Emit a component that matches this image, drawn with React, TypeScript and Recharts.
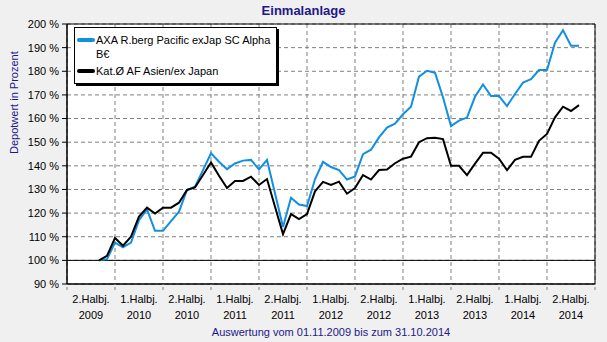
import React from "react";
import {
  LineChart,
  Line,
  XAxis,
  YAxis,
  CartesianGrid,
  ReferenceLine,
  ReferenceArea,
  Legend,
} from "recharts";

// monthly values, 01.11.2009 .. 31.10.2014
const axaValues = [
  100, 100.5, 107.5, 105.5, 107.5, 117, 121.6, 112.5, 112.5, 116.6, 120.6, 129.8,
  131.2, 138.2, 145.3, 141.7, 138.6, 141, 142.2, 142.5, 138.5, 142.5, 128.4, 114.1,
  126.5, 123.6, 123, 134.3, 141.7, 139.5, 138.2, 134.2, 135.5, 144.9, 146.8, 152,
  156.2, 157.8, 161.8, 165, 177.7, 180.2, 179.4, 169, 156.8, 159.1, 160.4, 169.2,
  174.4, 169.5, 169.5, 165.3, 170.4, 175.2, 176.7, 180.5, 180.5, 192.1, 197.4, 190.8,
  190.8,
];
const katValues = [
  100, 101.9, 109.5, 106.2, 110, 118.5, 122.3, 119.8, 122.3, 122.3, 124.4, 129.8,
  130.9, 136.1, 141.4, 135.8, 130.6, 133.6, 133.6, 135.4, 131.9, 134.4, 122.7, 111.1,
  119.6, 117.5, 119.6, 129.2, 133.2, 131.9, 133.3, 128.2, 130.6, 136.1, 134.2, 138.2,
  138.4, 141.1, 143, 143.9, 150, 151.7, 151.9, 151.3, 140, 140, 136.1, 140.9,
  145.5, 145.5, 143, 138.2, 142.5, 143.8, 143.8, 150.6, 153.5, 160.5, 165, 163.2,
  165.7,
];
// half-year columns, month 0 = 01.07.2009
const halfYears = [
  ["2.Halbj.", "2009"],
  ["1.Halbj.", "2010"],
  ["2.Halbj.", "2010"],
  ["1.Halbj.", "2011"],
  ["2.Halbj.", "2011"],
  ["1.Halbj.", "2012"],
  ["2.Halbj.", "2012"],
  ["1.Halbj.", "2013"],
  ["2.Halbj.", "2013"],
  ["1.Halbj.", "2014"],
  ["2.Halbj.", "2014"],
];
const startMonth = 4;
const yTicks = [90, 100, 110, 120, 130, 140, 150, 160, 170, 180, 190, 200];

const BLUE = "#1190e0";
const NAVY = "#22178a";
const FONT = "Arial, 'Liberation Sans', sans-serif";

const data = axaValues.map((v, i) => ({
  m: startMonth + i,
  axa: v,
  kat: katValues[i],
}));
const xTicks = halfYears.map((_, i) => i * 6).concat([halfYears.length * 6]);

function HalfYearTick(props: any) {
  const { x, y, payload } = props;
  const idx = payload.value / 6;
  const label = halfYears[idx];
  if (!label) return null;
  // label sits in the middle of its half-year column
  const colHalf = 24;
  return (
    <text x={x + colHalf} y={y} textAnchor="middle" fontSize={11} fontFamily={FONT} fill="#000">
      <tspan x={x + colHalf} dy={11}>{label[0]}</tspan>
      <tspan x={x + colHalf} dy={16}>{label[1]}</tspan>
    </text>
  );
}

function LegendBox(props: any) {
  const items = props.payload || [];
  return (
    <div
      style={{
        width: 203,
        height: 57,
        background: "#fff",
        border: "1px solid #000",
        boxShadow: "2px 2px 0 #000",
        padding: "5px 2px",
        fontFamily: FONT,
        fontSize: 11,
        lineHeight: "14px",
        boxSizing: "border-box",
      }}
    >
      {items.map((it: any) => (
        <div key={it.value} style={{ display: "flex", alignItems: "flex-start", marginBottom: 3 }}>
          <span
            style={{
              display: "inline-block",
              width: 18,
              height: 4,
              borderRadius: 2,
              background: it.color,
              marginTop: 5,
              flexShrink: 0,
            }}
          />
          <span style={{ color: "#000", whiteSpace: "pre-line", marginLeft: 1 }}>{it.value}</span>
        </div>
      ))}
    </div>
  );
}

export default function App() {
  return (
    <div style={{ position: "relative", width: 607, height: 342, background: "#f0f0f0" }}>
      <style>{"body{margin:0}"}</style>
      <div
        style={{
          position: "absolute",
          top: 3,
          left: 0,
          width: 607,
          textAlign: "center",
          fontFamily: FONT,
          fontSize: 13,
          fontWeight: "bold",
          color: NAVY,
        }}
      >
        Einmalanlage
      </div>
      <LineChart
        width={607}
        height={342}
        data={data}
        margin={{ top: 24, right: 12, bottom: 0, left: 0 }}
        style={{ position: "absolute", top: 0, left: 0 }}
      >
        <CartesianGrid stroke="#808080" strokeDasharray="4 3" fill="#fff" />
        <XAxis
          dataKey="m"
          type="number"
          domain={[0, 66]}
          ticks={xTicks}
          interval={0}
          height={58}
          tick={<HalfYearTick />}
          tickSize={6}
          tickLine={{ stroke: "#808080", strokeDasharray: "3 2" }}
          axisLine={{ stroke: "#000" }}
          label={{
            value: "Auswertung vom 01.11.2009 bis zum 31.10.2014",
            position: "insideBottom",
            offset: 6,
            fill: NAVY,
            fontSize: 11,
            fontFamily: FONT,
          }}
        />
        <YAxis
          type="number"
          domain={[90, 200]}
          ticks={yTicks}
          interval={0}
          width={67}
          tickSize={5}
          tickMargin={3}
          tickFormatter={(v: number) => `${v} %`}
          tick={{ fontSize: 11, fontFamily: FONT, fill: "#000" }}
          tickLine={{ stroke: "#000" }}
          axisLine={{ stroke: "#000" }}
          label={{
            value: "Depotwert in Prozent",
            angle: -90,
            position: "insideLeft",
            offset: 14,
            fill: NAVY,
            fontSize: 11,
            fontFamily: FONT,
          }}
        />
        <ReferenceLine y={100} stroke="#000" strokeWidth={1} />
        <ReferenceArea x1={0} x2={66} y1={90} y2={200} fill="none" stroke="#000" strokeWidth={1} ifOverflow="visible" />
        <Legend
          layout="vertical"
          align="center"
          verticalAlign="middle"
          content={<LegendBox />}
          wrapperStyle={{ left: 74, top: 27, width: "auto" }}
        />
        <Line
          type="linear"
          dataKey="axa"
          name={"AXA R.berg Pacific exJap SC Alpha\nB€"}
          stroke={BLUE}
          strokeWidth={2}
          dot={false}
          isAnimationActive={false}
        />
        <Line
          type="linear"
          dataKey="kat"
          name="Kat.Ø AF Asien/ex Japan"
          stroke="#000"
          strokeWidth={2}
          dot={false}
          isAnimationActive={false}
        />
      </LineChart>
    </div>
  );
}
